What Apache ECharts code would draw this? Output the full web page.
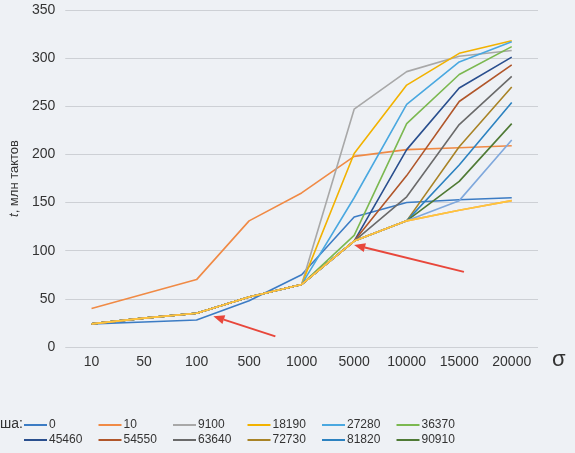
<!DOCTYPE html>
<html>
<head>
<meta charset="utf-8">
<script src="https://cdn.jsdelivr.net/npm/echarts@6/dist/echarts.min.js"></script>
<style>
html,body{margin:0;padding:0;background:#EEF1F5;}
#c{width:575px;height:453px;}
</style>
</head>
<body>
<div id="c"></div>
<script>
// ---- data ----
const categories = ['10','50','100','500','1000','5000','10000','15000','20000'];
const yTicks = [0,50,100,150,200,250,300,350];
const seriesNames = ['0','10','9100','18190','27280','36370','45460','54550','63640','72730','81820','90910','100000','109090','118180'];
const legendNames = ['0','10','9100','18190','27280','36370','45460','54550','63640','72730','81820','90910'];
const s0      = [24, 26, 28, 48, 75, 135, 150, 153, 155];
const s10     = [40, 55, 70, 131, 160, 198, 205, 207, 209];
const s9100   = [24, 30, 35, 52, 65, 247, 286, 302, 308];
const s18190  = [24, 30, 35, 52, 65, 201, 272, 305, 318];
const s27280  = [24, 30, 35, 52, 65, 155, 252, 296, 317];
const s36370  = [24, 30, 35, 52, 65, 116, 232, 283, 312];
const s45460  = [24, 30, 35, 52, 65, 110, 205, 269, 301];
const s54550  = [24, 30, 35, 52, 65, 110, 178, 255, 293];
const s63640  = [24, 30, 35, 52, 65, 110, 156, 231, 281];
const s72730  = [24, 30, 35, 52, 65, 110, 131, 208, 270];
const s81820  = [24, 30, 35, 52, 65, 110, 131, 189, 254];
const s90910  = [24, 30, 35, 52, 65, 110, 131, 172, 232];
const s100000 = [24, 30, 35, 52, 65, 110, 131, 152, 215];
const s109090 = [24, 30, 35, 52, 65, 110, 131, 142, 152];
const s118180 = [24, 30, 35, 52, 65, 110, 131, 142, 152];
const allValues = [s0,s10,s9100,s18190,s27280,s36370,s45460,s54550,s63640,s72730,s81820,s90910,s100000,s109090,s118180];
// annotation arrows: [categoryIndex(fractional), value] tail -> tip
const arrows = [
  {from:[3.50, 11], to:[2.32, 32]},
  {from:[7.09, 78], to:[5.00, 106]}
];

// ---- styles ----
const colors = ['#3C7CC4','#F08A45','#A8A8A8','#F2B200','#4AA8E0','#7BB850','#2A4F8E','#B0562A','#6A6A6A','#A88326','#2C82C0','#4F7A35','#7FA8DC','#F1975A','#FFC63A'];

const chart = echarts.init(document.getElementById('c'), null, {renderer:'canvas'});
const font = '"Liberation Sans", Arial, sans-serif';

const legends = legendNames.map((n,i)=>({
  data:[n],
  left: 24 + (i%6)*74.5,
  top: i<6 ? 419 : 434,
  icon:'rect', itemWidth:23, itemHeight:2, itemGap:0, padding:0,
  selectedMode:false,
  textStyle:{fontSize:12, color:'#333', fontFamily:font, padding:[0,0,0,-3]}
}));

chart.setOption({
  backgroundColor:'#EEF1F5',
  animation:false,
  color: colors,
  grid:{left:59, right:37, top:10, bottom:106},
  xAxis:{
    type:'category', data:categories, boundaryGap:true,
    axisLine:{show:false}, axisTick:{show:false},
    axisLabel:{fontSize:14, color:'#333', fontFamily:font, margin:8},
    name:'σ', nameLocation:'end', nameGap:14,
    nameTextStyle:{fontSize:22, color:'#333', fontFamily:font, verticalAlign:'top', padding:[2,0,0,0]}
  },
  yAxis:{
    type:'value', min:0, max:350, interval:50,
    axisLine:{show:false}, axisTick:{show:false},
    axisLabel:{fontSize:14, color:'#333', fontFamily:font, margin:10},
    splitLine:{lineStyle:{color:'#CDD0D5', width:1}},
    name:'{i|t}, млн тактов', nameLocation:'middle', nameGap:40, nameRotate:90,
    nameTextStyle:{fontSize:13, color:'#333', fontFamily:font, rich:{i:{fontStyle:'italic', fontSize:13, color:'#333', fontFamily:font}}}
  },
  legend: legends,
  series: seriesNames.map((n,i)=>({
    name:n, type:'line', data:allValues[i], showSymbol:false, symbol:'none',
    lineStyle:{width:1.6, color:colors[i]}, itemStyle:{color:colors[i]}
  }))
});

function px(ix, v){
  const i0 = Math.min(Math.floor(ix), categories.length-2);
  const p0 = chart.convertToPixel({gridIndex:0},[i0, v]);
  const p1 = chart.convertToPixel({gridIndex:0},[i0+1, v]);
  const t = ix - i0;
  return [p0[0] + (p1[0]-p0[0])*t, p0[1]];
}
const g = [{type:'text', left:0, top:417, style:{text:'ша:', fontSize:14, fill:'#333', fontFamily:font}}];
arrows.forEach(a=>{
  const A = px(a.from[0], a.from[1]);
  const B = px(a.to[0], a.to[1]);
  const dx = B[0]-A[0], dy = B[1]-A[1];
  const L = Math.sqrt(dx*dx+dy*dy), ux = dx/L, uy = dy/L;
  const hl = 11, hw = 4.5;
  const base = [B[0]-ux*hl, B[1]-uy*hl];
  g.push({type:'line', shape:{x1:A[0], y1:A[1], x2:base[0], y2:base[1]}, style:{stroke:'#E8473B', lineWidth:2}, z:100});
  g.push({type:'polygon', shape:{points:[B,[base[0]-uy*hw, base[1]+ux*hw],[base[0]+uy*hw, base[1]-ux*hw]]}, style:{fill:'#E8473B'}, z:100});
});
chart.setOption({graphic:g});
</script>
</body>
</html>
